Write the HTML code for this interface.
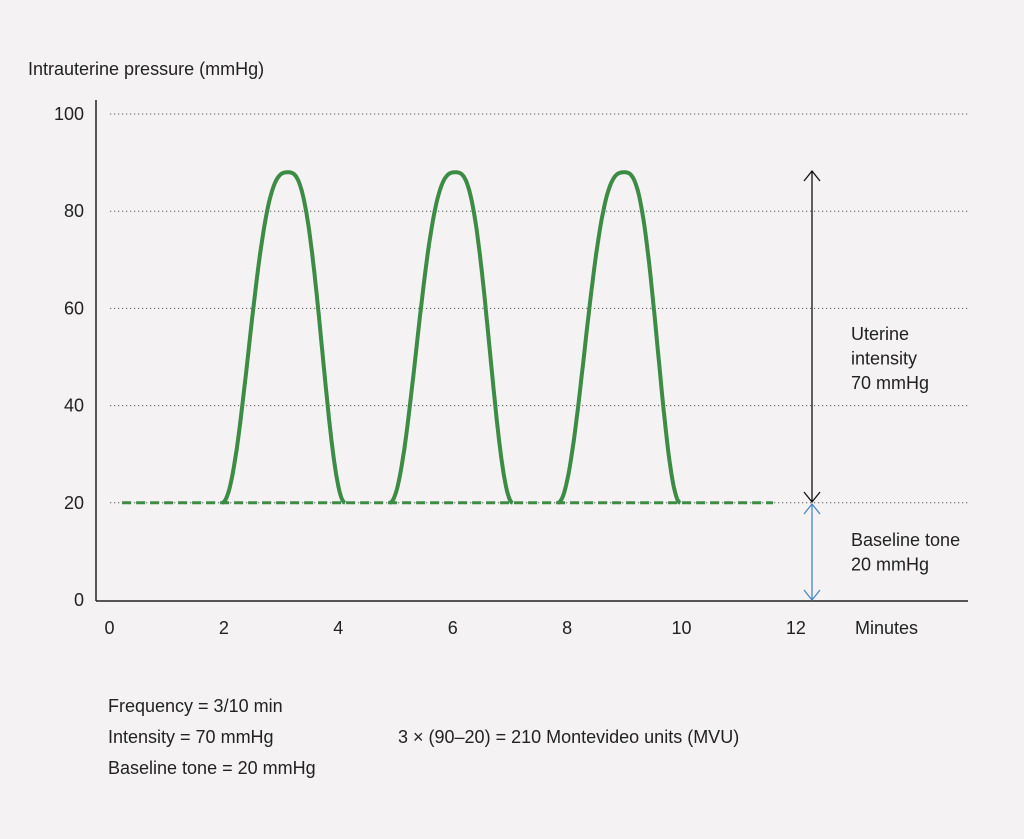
<!DOCTYPE html>
<html><head><meta charset="utf-8"><style>
html,body{margin:0;padding:0;background:#f4f2f2;}
svg{display:block;font-family:"Liberation Sans",sans-serif;}
text{fill:#222;font-size:18px;}
</style></head><body>
<svg id="chart" width="1024" height="839" viewBox="0 0 1024 839">
<rect width="1024" height="839" fill="#f4f2f2"/>
<text x="28" y="75">Intrauterine pressure (mmHg)</text>
<g id="grid"></g>
<line x1="96" y1="100" x2="96" y2="601" stroke="#222" stroke-width="1.5"/>
<line x1="96" y1="601" x2="968" y2="601" stroke="#222" stroke-width="1.5"/>
<g id="yticks"></g><g id="xticks"></g>
<text x="855" y="634">Minutes</text>
<g id="series"></g>
<g>
<line x1="812" y1="171" x2="812" y2="502" stroke="#111" stroke-width="1.3"/>
<polyline points="804,181 812,171 820,181" fill="none" stroke="#111" stroke-width="1.3"/>
<polyline points="804,492 812,502 820,492" fill="none" stroke="#111" stroke-width="1.3"/>
</g>
<g>
<line x1="812" y1="504" x2="812" y2="600" stroke="#4a86c8" stroke-width="1.3"/>
<polyline points="804,514 812,504 820,514" fill="none" stroke="#4a86c8" stroke-width="1.3"/>
<polyline points="804,590 812,600 820,590" fill="none" stroke="#4a86c8" stroke-width="1.3"/>
</g>
<text x="851" y="340"><tspan x="851">Uterine</tspan><tspan x="851" dy="24.5">intensity</tspan><tspan x="851" dy="24.5">70 mmHg</tspan></text>
<text x="851" y="546"><tspan x="851">Baseline tone</tspan><tspan x="851" dy="24.5">20 mmHg</tspan></text>
<text x="108" y="712">Frequency = 3/10 min</text>
<text x="108" y="743">Intensity = 70 mmHg</text>
<text x="108" y="774">Baseline tone = 20 mmHg</text>
<text x="398" y="743">3 × (90–20) = 210 Montevideo units (MVU)</text>
</svg>
<script>
const yTicks=[0,20,40,60,80,100];
const xTicks=[0,2,4,6,8,10,12];
const starts=[1.97,4.9,7.84];
const peaks=[3.12,6.05,9.0];
const ends=[4.12,7.05,9.98];
const peakValues=[88,88,88];
const baseline=20;
const baseStart=0.22, baseEnd=11.6;
const NS="http://www.w3.org/2000/svg";
const X=v=>109.5+v*57.2, Y=v=>600-v*4.86;
function mk(tag,attrs,parent){const e=document.createElementNS(NS,tag);for(const k in attrs)e.setAttribute(k,attrs[k]);document.getElementById(parent).appendChild(e);return e;}
yTicks.forEach(t=>{
  if(t>0){const g=mk('line',{x1:110,x2:968,y1:Y(t),y2:Y(t),stroke:'#555','stroke-width':1,'stroke-dasharray':'1.2 2.8'},'grid');
  
  }
  const l=mk('text',{x:84,y:Y(t)+6,'text-anchor':'end'},'yticks');l.textContent=t;
  
  
});
xTicks.forEach(t=>{
  const l=mk('text',{x:X(t),y:634,'text-anchor':'middle'},'xticks');l.textContent=t;
  
  
});
const bl=mk('line',{x1:X(baseStart),x2:X(baseEnd),y1:Y(baseline),y2:Y(baseline),stroke:'#3c8c45','stroke-width':3,'stroke-dasharray':'9 5'},'series');


starts.forEach((s,i)=>{
  let d='';const N=100;
  for(let k=0;k<=N;k++){
    const half=k<=N/2;const f=half?k/(N/2):(N-k)/(N/2);
    const t=half? s+(peaks[i]-s)*f : ends[i]-(ends[i]-peaks[i])*f;
    const c=(1-Math.cos(Math.PI*f))/2;
    const v=baseline+(peakValues[i]-baseline)*(1-Math.pow(1-c,1.45));
    d+=(k?'L':'M')+X(t).toFixed(1)+','+Y(v).toFixed(1);
  }
  const p=mk('path',{d:d,fill:'none',stroke:'#3c8c45','stroke-width':4,'stroke-linejoin':'round'},'series');
  
  
});
</script>
</body></html>
